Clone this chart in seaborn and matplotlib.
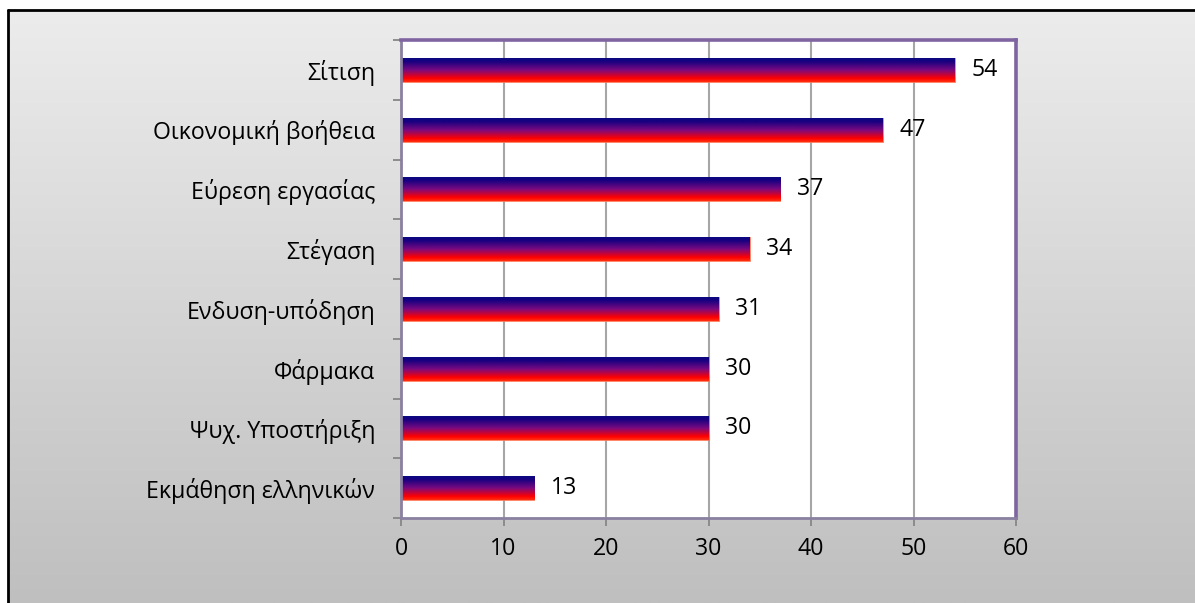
import numpy as np
import matplotlib
matplotlib.use("Agg")
import matplotlib.pyplot as plt
from matplotlib.colors import LinearSegmentedColormap
from matplotlib.lines import Line2D
import matplotlib.transforms as mtransforms
import seaborn as sns
import pandas as pd

categories = ["Σίτιση", "Οικονομική βοήθεια", "Εύρεση εργασίας", "Στέγαση",
              "Ενδυση-υπόδηση", "Φάρμακα", "Ψυχ. Υποστήριξη", "Εκμάθηση ελληνικών"]
values = [54, 47, 37, 34, 31, 30, 30, 13]
xticks = [0, 10, 20, 30, 40, 50, 60]

sns.set_theme(style="white")
plt.rcParams["font.family"] = ["Open Sans", "DejaVu Sans"]
FS = 16.7

W, H = 1195, 603
fig = plt.figure(figsize=(W / 100, H / 100), dpi=100)
fig.patch.set_facecolor("white")

# background gradient panel
bg = fig.add_axes([8 / W, 0, 1 - 8 / W, 1 - 10 / H], zorder=-10)
grad = np.linspace(0, 1, 256).reshape(-1, 1)
bg_cmap = LinearSegmentedColormap.from_list("bg", ["#ececec", "#bfbfbf"])
bg.imshow(grad, aspect="auto", cmap=bg_cmap, extent=(0, 1, 0, 1), origin="upper")
bg.set_axis_off()
fig.add_artist(Line2D([8 / W, 8 / W], [0, 1 - 10 / H], color="black", lw=2.0, transform=fig.transFigure))
fig.add_artist(Line2D([8 / W, 1], [1 - 10 / H, 1 - 10 / H], color="black", lw=2.0, transform=fig.transFigure))

left, right, top, bottom = 401, 1016, 40, 518
ax = fig.add_axes([left / W, 1 - bottom / H, (right - left) / W, (bottom - top) / H])
ax.set_facecolor("white")

df = pd.DataFrame({"cat": categories, "val": values})
sns.barplot(data=df, x="val", y="cat", orient="h", width=0.4, ax=ax,
            color="#800080", saturation=1)

bar_cmap = LinearSegmentedColormap.from_list(
    "bar", [(0, "#0a0a80"), (0.15, "#1a0080"), (0.5, "#7a0a80"), (0.85, "#ff0000"), (1.0, "#ff3010")])
offset = mtransforms.ScaledTranslation(12 / 72, 0, fig.dpi_scale_trans)
for p in ax.patches:
    x0, y0 = p.get_x(), p.get_y()
    w, h = p.get_width(), p.get_height()
    p.set_facecolor("none")
    p.set_edgecolor("#ff7050")
    p.set_linewidth(0.6)
    im = ax.imshow(grad, aspect="auto", cmap=bar_cmap, origin="upper",
                   extent=(x0, x0 + w, y0 + h, y0), zorder=2)
    im.set_clip_path(p)
    ax.text(x0 + w, y0 + h / 2, f"{int(round(w))}", transform=ax.transData + offset,
            ha="left", va="center", fontsize=FS, color="black", zorder=5)

ax.set_xlim(0, 60)
ax.set_ylim(len(categories) - 0.5, -0.5)
ax.set_xticks(xticks)
ax.set_xticklabels([str(v) for v in xticks], fontsize=FS)
ax.set_yticks(range(len(categories)))
ax.set_yticklabels(categories, fontsize=FS)
ax.set_yticks(np.arange(-0.5, len(categories), 1.0), minor=True)
ax.tick_params(axis="y", which="major", length=0, pad=18.5, colors="black")
ax.tick_params(axis="y", which="minor", length=5.5, width=1.3, color="#868686", left=True)
ax.tick_params(axis="x", which="major", length=5.5, width=1.3, color="#868686", pad=8,
               bottom=True, labelcolor="black")
ax.set_xlabel("")
ax.set_ylabel("")

ax.grid(axis="x", color="#a6a6a6", lw=1.5, zorder=0)
ax.set_axisbelow(True)

for s in ["top", "right"]:
    ax.spines[s].set_color("#8064a2")
    ax.spines[s].set_linewidth(2.6)
for s in ["left", "bottom"]:
    ax.spines[s].set_color("#8a80a0")
    ax.spines[s].set_linewidth(2.0)

fig.savefig("out.png", dpi=100)
